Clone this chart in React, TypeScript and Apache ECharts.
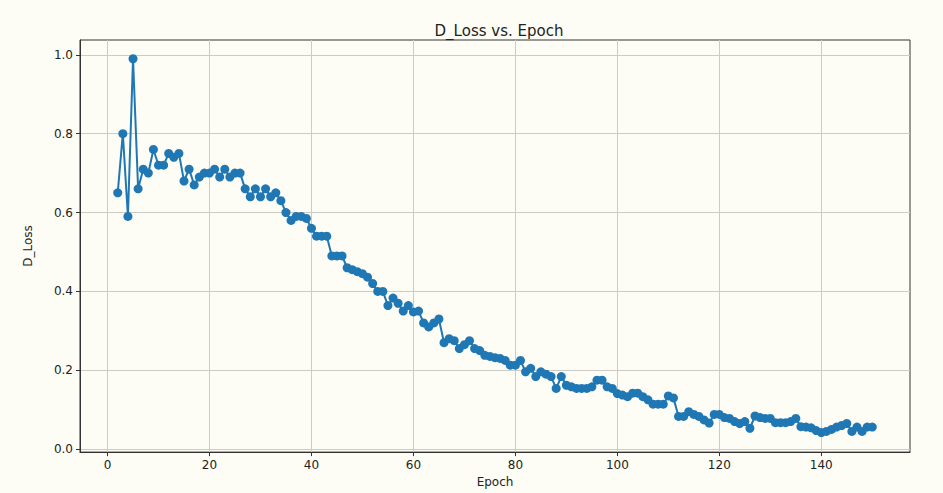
import React, { useEffect, useRef } from "react";
import * as echarts from "echarts";

const firstEpoch = 2;
const dLoss = [
  0.65, 0.80, 0.59, 0.99, 0.66, 0.71, 0.70, 0.76, 0.72, 0.72,
  0.75, 0.74, 0.75, 0.68, 0.71, 0.67, 0.69, 0.70, 0.70, 0.71,
  0.69, 0.71, 0.69, 0.70, 0.70, 0.66, 0.64, 0.66, 0.64, 0.66,
  0.64, 0.65, 0.63, 0.60, 0.58, 0.59, 0.59, 0.585, 0.56, 0.54,
  0.54, 0.54, 0.49, 0.49, 0.49, 0.46, 0.455, 0.45, 0.445, 0.436,
  0.42, 0.40, 0.40, 0.364, 0.383, 0.37, 0.35, 0.364, 0.348, 0.35,
  0.32, 0.31, 0.32, 0.33, 0.27, 0.28, 0.275, 0.255, 0.265, 0.275,
  0.255, 0.25, 0.238, 0.235, 0.232, 0.23, 0.225, 0.213, 0.213, 0.225,
  0.196, 0.205, 0.184, 0.196, 0.19, 0.184, 0.154, 0.184, 0.162, 0.158,
  0.154, 0.154, 0.154, 0.158, 0.175, 0.175, 0.158, 0.154, 0.141, 0.137,
  0.133, 0.142, 0.142, 0.133, 0.125, 0.114, 0.114, 0.114, 0.135, 0.13,
  0.083, 0.083, 0.095, 0.088, 0.083, 0.074, 0.066, 0.088, 0.088, 0.08,
  0.078, 0.07, 0.065, 0.07, 0.053, 0.084, 0.08, 0.078, 0.078, 0.067,
  0.067, 0.067, 0.07, 0.078, 0.057, 0.056, 0.054, 0.047, 0.042, 0.045,
  0.05, 0.056, 0.06, 0.065, 0.045, 0.056, 0.045, 0.056, 0.056,
];
const xTicks = [0, 20, 40, 60, 80, 100, 120, 140];
const yTicks = [0, 0.2, 0.4, 0.6, 0.8, 1.0];
const xRange = [-5.4, 157.4];
const yRange = [-0.0075, 1.0375];

const FONT = "DejaVu Sans";
const AXIS_COLOR = "#333";
const GRID_COLOR = "#cccbc5";

export default function App() {
  const ref = useRef<HTMLDivElement>(null);
  useEffect(() => {
    if (!ref.current) return;
    const chart = echarts.init(ref.current, undefined, { renderer: "svg" });
    const data = dLoss.map((v, i) => [firstEpoch + i, v]);
    chart.setOption({
      animation: false,
      backgroundColor: "#fdfdf5",
      title: {
        text: "D_Loss vs. Epoch",
        left: 494,
        top: 18,
        textAlign: "center",
        textStyle: { fontFamily: FONT, fontSize: 15, fontWeight: "normal", color: "#222" },
      },
      grid: {
        left: 80,
        right: 33,
        top: 40,
        bottom: 38,
        show: true,
        borderColor: AXIS_COLOR,
        borderWidth: 1,
        backgroundColor: "transparent",
      },
      xAxis: {
        type: "value",
        min: xRange[0],
        max: xRange[1],
        name: "Epoch",
        nameLocation: "middle",
        nameGap: 23,
        nameTextStyle: { fontFamily: FONT, fontSize: 12, color: "#222" },
        axisLine: { show: true, onZero: false, lineStyle: { color: AXIS_COLOR, width: 1 } },
        axisTick: { show: true, customValues: xTicks, length: 4, lineStyle: { color: AXIS_COLOR } },
        axisLabel: {
          customValues: xTicks,
          formatter: (v: number) => String(v),
          fontFamily: FONT,
          fontSize: 12,
          color: "#222",
          margin: 7,
        },
        splitLine: { show: true, lineStyle: { color: GRID_COLOR, width: 1 } },
      },
      yAxis: {
        type: "value",
        min: yRange[0],
        max: yRange[1],
        name: "D_Loss",
        nameLocation: "middle",
        nameGap: 46,
        nameRotate: 90,
        nameTextStyle: { fontFamily: FONT, fontSize: 12, color: "#222" },
        axisLine: { show: true, onZero: false, lineStyle: { color: AXIS_COLOR, width: 1 } },
        axisTick: { show: true, customValues: yTicks, length: 4, lineStyle: { color: AXIS_COLOR } },
        axisLabel: {
          customValues: yTicks,
          formatter: (v: number) => v.toFixed(1),
          fontFamily: FONT,
          fontSize: 12,
          color: "#222",
          margin: 7,
        },
        splitLine: { show: true, lineStyle: { color: GRID_COLOR, width: 1 } },
      },
      series: [
        {
          type: "line",
          data,
          symbol: "circle",
          symbolSize: 9,
          showSymbol: true,
          lineStyle: { color: "#1f77b4", width: 2 },
          itemStyle: { color: "#1f77b4", borderWidth: 0 },
        },
      ],
    });
    return () => chart.dispose();
  }, []);
  return (
    <div
      ref={ref}
      style={{ position: "absolute", left: 0, top: 0, width: 943, height: 493 }}
    />
  );
}
